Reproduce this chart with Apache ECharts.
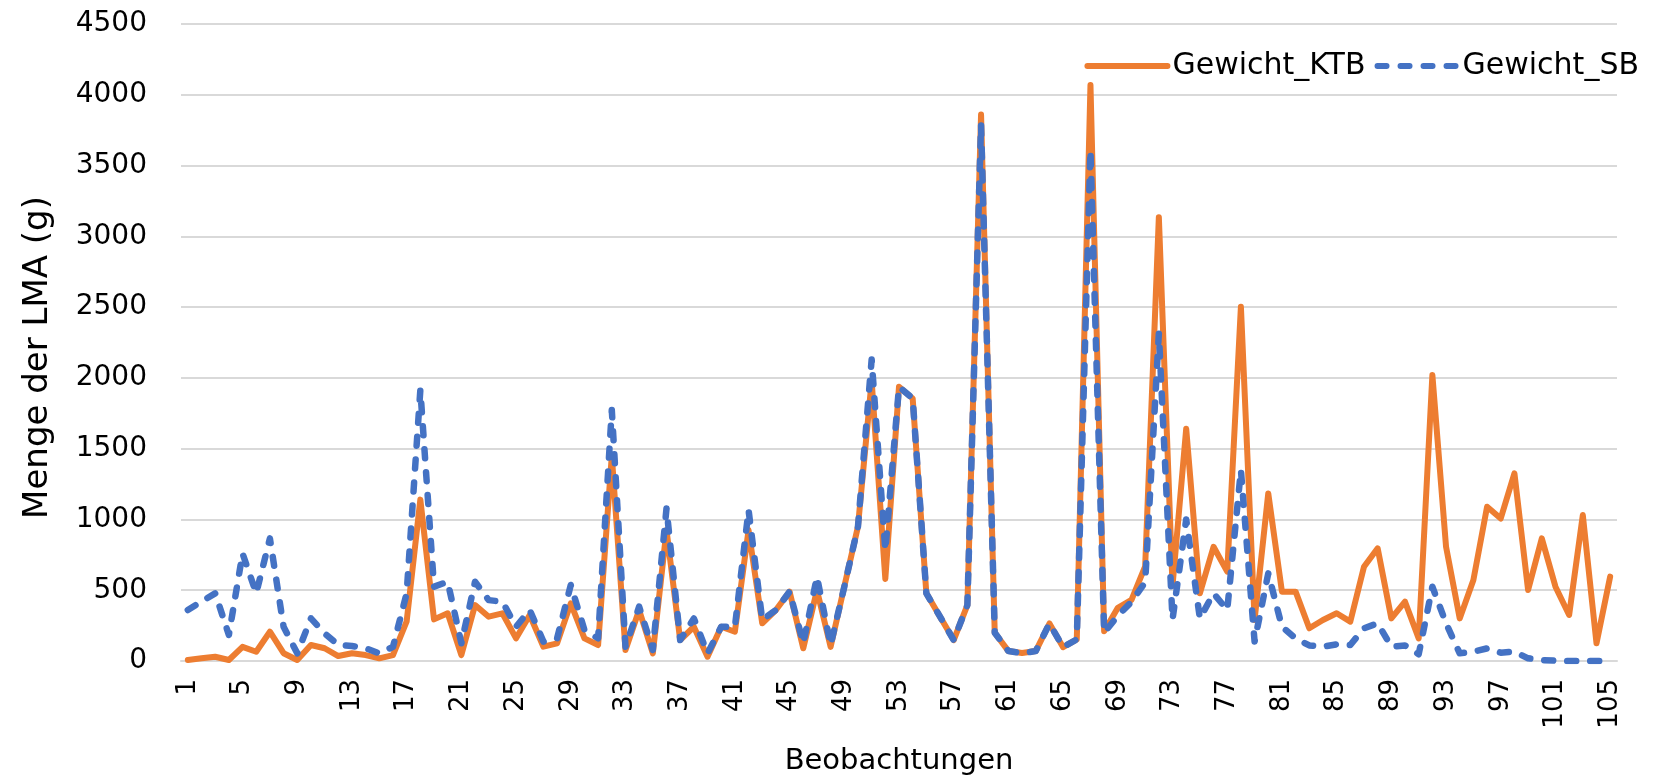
<!DOCTYPE html>
<html>
<head>
<meta charset="utf-8">
<script src="https://cdn.jsdelivr.net/npm/echarts@6/dist/echarts.min.js"></script>
<style>
  html, body { margin: 0; padding: 0; background: #ffffff; }
  #chart { width: 1678px; height: 775px; }
</style>
</head>
<body>
<div id="chart"></div>
<script>
// Observation numbers 1..105
const observations = [
  1, 2, 3, 4, 5, 6, 7, 8, 9, 10, 11, 12, 13, 14, 15, 16, 17, 18, 19, 20,
  21, 22, 23, 24, 25, 26, 27, 28, 29, 30, 31, 32, 33, 34, 35, 36, 37, 38, 39, 40,
  41, 42, 43, 44, 45, 46, 47, 48, 49, 50, 51, 52, 53, 54, 55, 56, 57, 58, 59, 60,
  61, 62, 63, 64, 65, 66, 67, 68, 69, 70, 71, 72, 73, 74, 75, 76, 77, 78, 79, 80,
  81, 82, 83, 84, 85, 86, 87, 88, 89, 90, 91, 92, 93, 94, 95, 96, 97, 98, 99, 100,
  101, 102, 103, 104, 105
];

// Weight per observation (g), KTB
const gewichtKTB = [
  7, 19, 30, 7, 100, 65, 207, 55, 7, 113, 90, 35, 55, 42, 19, 42, 280, 1140, 294, 337,
  42, 395, 313, 337, 160, 325, 101, 125, 407, 160, 113, 1450, 78, 360, 54, 925, 148, 242, 30, 242,
  207, 925, 266, 360, 490, 90, 500, 100, 525, 950, 1980, 580, 1937, 1855, 478, 313, 148, 395, 3860, 200,
  70, 56, 70, 265, 98, 153, 4069, 210, 376, 432, 669, 3135, 530, 1640, 478, 807, 631, 2502, 290, 1184,
  490, 490, 231, 290, 337, 278, 666, 796, 301, 419, 160, 2020, 807, 301, 572, 1090, 1007, 1325, 501, 866,
  525, 325, 1031, 125, 596
];

// Weight per observation (g), SB
const gewichtSB = [
  360, 420, 478, 184, 760, 478, 866, 242, 54, 301, 195, 113, 106, 90, 54, 100, 478, 1914, 525, 560,
  125, 560, 430, 419, 242, 360, 137, 160, 537, 219, 160, 1773, 101, 384, 78, 1078, 148, 301, 54, 242,
  240, 1066, 290, 360, 490, 125, 595, 113, 525, 950, 2130, 780, 1937, 1855, 478, 313, 148, 395, 3790, 200,
  70, 56, 70, 265, 98, 153, 3609, 200, 320, 418, 557, 2313, 293, 1000, 301, 478, 360, 1349, 137, 619,
  242, 160, 110, 101, 118, 113, 231, 266, 101, 110, 48, 525, 266, 54, 66, 89, 59, 66, 19, 7,
  2, 0, 0, 0, 0
];

const FONT = 'DejaVu Sans';
const ORANGE = '#ED7D31';
const BLUE = '#4472C4';
const chart = echarts.init(document.getElementById('chart'), null, { renderer: 'canvas' });

chart.setOption({
  animation: false,
  backgroundColor: '#ffffff',
  textStyle: { fontFamily: FONT, color: '#000000' },
  grid: { left: 181, right: 61, top: 24, bottom: 114, containLabel: false, outerBoundsMode: 'none' },
  legend: {
    right: 34,
    top: 46,
    itemWidth: 80,
    itemHeight: 14,
    itemGap: 9,
    itemStyle: { opacity: 0 },
    lineStyle: { width: 6 },
    textStyle: { fontFamily: FONT, fontSize: 30, color: '#000000' },
    data: ['Gewicht_KTB', 'Gewicht_SB']
  },
  xAxis: {
    type: 'category',
    data: observations,
    boundaryGap: true,
    name: 'Beobachtungen',
    nameLocation: 'middle',
    nameGap: 86,
    nameTextStyle: { fontFamily: FONT, fontSize: 29, color: '#000000' },
    axisLine: { show: true, lineStyle: { color: '#d9d9d9', width: 2 } },
    axisTick: { show: false },
    axisLabel: {
      interval: 3,
      rotate: 90,
      margin: 18,
      fontFamily: FONT,
      fontSize: 26,
      color: '#000000'
    },
    splitLine: { show: false }
  },
  yAxis: {
    type: 'value',
    min: 0,
    max: 4500,
    interval: 500,
    name: 'Menge der LMA (g)',
    nameLocation: 'middle',
    nameGap: 126,
    nameTextStyle: { fontFamily: FONT, fontSize: 34, color: '#000000', padding: [0, 30, 0, 0] },
    axisLine: { show: false },
    axisTick: { show: false },
    axisLabel: {
      margin: 34,
      fontFamily: FONT,
      fontSize: 28,
      color: '#000000',
      formatter: (v) => String(v)
    },
    splitLine: { show: true, lineStyle: { color: '#d9d9d9', width: 2 } }
  },
  series: [
    {
      name: 'Gewicht_KTB',
      type: 'line',
      data: gewichtKTB,
      symbol: 'none',
      showSymbol: false,
      z: 2,
      lineStyle: { color: ORANGE, width: 6, cap: 'round', join: 'round' },
      itemStyle: { color: ORANGE }
    },
    {
      name: 'Gewicht_SB',
      type: 'line',
      data: gewichtSB,
      symbol: 'none',
      showSymbol: false,
      z: 3,
      lineStyle: { color: BLUE, width: 6.5, type: [9, 14], cap: 'round', join: 'round' },
      itemStyle: { color: BLUE }
    }
  ]
});
</script>
</body>
</html>
